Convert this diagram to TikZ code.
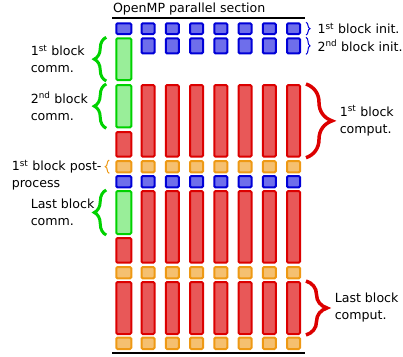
\documentclass[tikz,border=0pt]{standalone}
\usepackage{fontspec}
\setmainfont{DejaVu Sans}
\usepackage{xcolor}
\usetikzlibrary{positioning,decorations.pathreplacing}

\definecolor{initline}{RGB}{0,0,215}
\definecolor{initfill}{RGB}{110,110,235}
\definecolor{compline}{RGB}{220,0,0}
\definecolor{compfill}{RGB}{232,88,88}
\definecolor{commline}{RGB}{0,210,0}
\definecolor{commfill}{RGB}{153,238,153}
\definecolor{postline}{RGB}{238,153,20}
\definecolor{postfill}{RGB}{245,192,112}

\tikzset{
  task/.style={draw, rectangle, rounded corners=1.2pt, line width=2pt, inner sep=0pt, minimum width=13pt},
  initbox/.style={task, draw=initline, fill=initfill},
  compbox/.style={task, draw=compline, fill=compfill},
  commbox/.style={task, draw=commline, fill=commfill},
  postbox/.style={task, draw=postline, fill=postfill},
  firstcol/.style={minimum width=15pt},
  bigbrace/.style={decorate, decoration={brace, amplitude=#1}, line width=3pt},
  smallbrace/.style={decorate, decoration={brace, amplitude=4pt}, line width=1pt},
  lbl/.style={inner sep=0pt, align=left, text=black, font=\fontsize{12.6}{17}\selectfont},
  rule/.style={line width=2pt, black}
}

% one row of tasks on threads 2..8: style, top, bottom, name
\newcommand{\taskrow}[4]{%
  \foreach \c in {2,...,8}
    \node[#1, minimum height={#3-#2-2}] (#4-\c) at ({123.75+24.25*(\c-1)}, {(#2+#3)/2}) {};
}
% one task on thread 1: style, top, bottom, name
\newcommand{\firsttask}[4]{%
  \node[#1, firstcol, minimum height={#3-#2-2}] (#4-1) at (123.75, {(#2+#3)/2}) {};
}

\begin{document}
\begin{tikzpicture}[x=1pt, y=-1pt]
  \useasboundingbox (0,0) rectangle (403,356);

  % Parallel section limits
  \coordinate (topL) at (112,18.3);
  \coordinate (topR) at (305,18.3);
  \coordinate (botL) at (112,353.3);
  \coordinate (botR) at (305,353.3);
  \draw[rule] (topL) -- (topR) node[lbl, pos=0, anchor=base west, yshift=6pt] {OpenMP parallel section};
  \draw[rule] (botL) -- (botR);

  % Thread 1
  \firsttask{initbox}{22.3}{35}{initA}
  \firsttask{commbox}{37.3}{81}{commA}
  \firsttask{commbox}{84}{128.3}{commB}
  \firsttask{compbox}{131}{157.7}{compA}
  \firsttask{postbox}{160}{173.3}{postA}
  \firsttask{initbox}{175}{188.3}{initC}
  \firsttask{commbox}{190}{235}{commL}
  \firsttask{compbox}{237}{263.7}{compB}
  \firsttask{postbox}{266}{279.3}{postB}
  \firsttask{compbox}{281}{335}{compL}
  \firsttask{postbox}{336.7}{350}{postL}

  % Threads 2..8
  \taskrow{initbox}{22.3}{35}{initA}
  \taskrow{initbox}{37.3}{54.3}{initB}
  \taskrow{compbox}{84}{157.7}{compA}
  \taskrow{postbox}{160}{173.3}{postA}
  \taskrow{initbox}{175}{188.3}{initC}
  \taskrow{compbox}{190}{263.7}{compB}
  \taskrow{postbox}{266}{279.3}{postB}
  \taskrow{compbox}{281}{335}{compL}
  \taskrow{postbox}{336.7}{350}{postL}

  % Left braces
  \draw[commline, bigbrace=12pt] ([xshift=-9pt]commA-1.south west) -- ([xshift=-9pt]commA-1.north west)
    node[lbl, midway, anchor=west, xshift=-77pt] {1\textsuperscript{st} block\\comm.};
  \draw[commline, bigbrace=12pt] ([xshift=-9pt]commB-1.south west) -- ([xshift=-9pt]commB-1.north west)
    node[lbl, midway, anchor=west, xshift=-77pt] {2\textsuperscript{nd} block\\comm.};
  \draw[commline, bigbrace=12pt] ([xshift=-9pt]commL-1.south west) -- ([xshift=-9pt]commL-1.north west)
    node[lbl, midway, anchor=west, xshift=-77pt] {Last block\\comm.};
  \draw[postline, smallbrace] ([xshift=-6pt]postA-1.south west) -- ([xshift=-6pt]postA-1.north west)
    node[lbl, midway, anchor=north west, xshift=-98pt, yshift=7pt] {1\textsuperscript{st} block post-\\process};

  % Right braces
  \draw[initline, smallbrace] ([xshift=5pt]initA-8.north east) -- ([xshift=5pt]initA-8.south east)
    node[lbl, midway, right=11pt] {1\textsuperscript{st} block init.};
  \draw[initline, smallbrace] ([xshift=5pt]initB-8.north east) -- ([xshift=5pt]initB-8.south east)
    node[lbl, midway, right=11pt] {2\textsuperscript{nd} block init.};
  \draw[compline, bigbrace=26pt, line width=3.5pt] ([xshift=5pt]compA-8.north east) -- ([xshift=5pt]compA-8.south east)
    node[lbl, midway, right=32pt] {1\textsuperscript{st} block\\comput.};
  \draw[compline, bigbrace=21pt, line width=3.5pt] ([xshift=5pt]compL-8.north east) -- ([xshift=5pt]compL-8.south east)
    node[lbl, midway, right=27pt] {Last block\\comput.};
\end{tikzpicture}
\end{document}
